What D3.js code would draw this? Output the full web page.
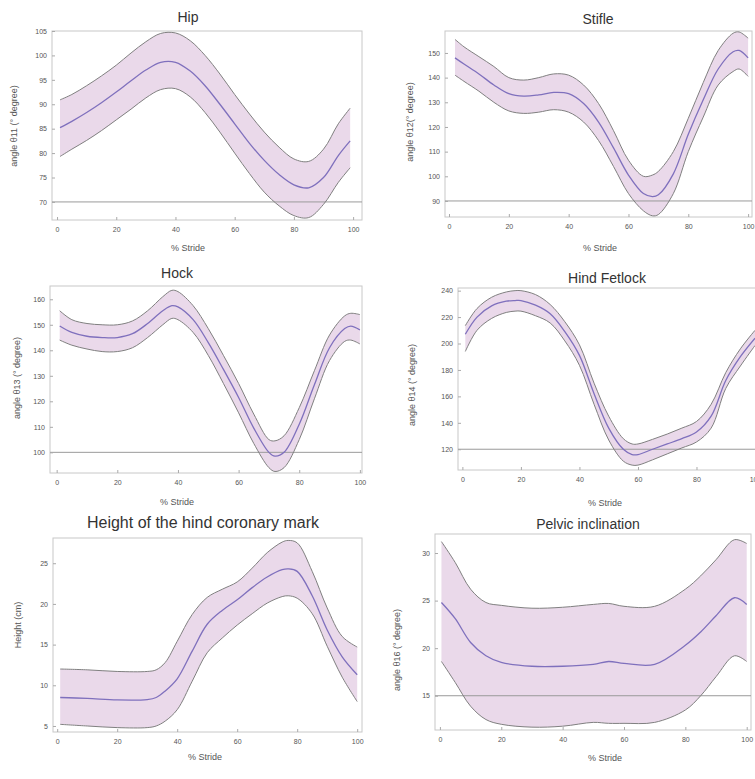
<!DOCTYPE html>
<html>
<head>
<meta charset="utf-8">
<script src="https://cdn.jsdelivr.net/npm/d3@7"></script>
<style>
  body { margin: 0; background: #fff; }
  svg { display: block; font-family: "Liberation Sans", Arial, sans-serif; }
</style>
</head>
<body>
<div id="chart"></div>
<script>
// ---- data ----
const hipX = [1, 5, 10, 15, 20, 25, 30, 35, 40, 45, 50, 55, 60, 65, 70, 75, 80, 85, 90, 95, 99];
const hipMean = [85.2, 86.5, 88.3, 90.3, 92.5, 94.8, 97.0, 98.6, 98.6, 96.8, 93.8, 90.0, 86.0, 82.0, 78.5, 75.6, 73.5, 72.9, 75.0, 79.5, 82.5];
const hipUpper = [90.9, 92.0, 93.8, 95.8, 98.0, 100.5, 102.8, 104.5, 104.6, 103.0, 100.0, 96.2, 92.0, 88.0, 84.3, 81.2, 78.8, 78.3, 80.8, 86.0, 89.2];
const hipLower = [79.3, 80.8, 82.6, 84.6, 86.8, 89.0, 91.3, 93.0, 93.2, 91.5, 88.3, 84.3, 80.0, 75.8, 72.0, 69.2, 67.2, 66.8, 69.5, 74.0, 77.0];

const stifleX = [2, 5, 10, 15, 20, 25, 30, 35, 40, 45, 50, 55, 60, 65, 68, 70, 75, 80, 85, 90, 95, 97, 100];
const stifleMean = [148, 145.5, 141.5, 137.0, 133.5, 132.5, 133.0, 134.0, 133.5, 129.5, 122.0, 111.5, 100.5, 93.0, 91.8, 92.5, 101.0, 117.0, 131.0, 143.5, 150.5, 151.0, 148.0];
const stifleUpper = [155.5, 152.5, 148.5, 144.5, 140.0, 139.0, 140.0, 141.5, 141.0, 137.0, 129.5, 118.5, 106.5, 100.0, 100.5, 102.0, 110.0, 123.5, 138.0, 151.0, 158.0, 158.5, 156.0];
const stifleLower = [141.0, 138.5, 134.5, 130.0, 126.5, 125.5, 126.0, 127.0, 126.0, 122.0, 114.5, 104.0, 93.0, 86.0, 84.0, 84.5, 93.0, 110.0, 124.0, 137.0, 142.5, 143.5, 140.5];

const hockX = [1, 5, 10, 15, 20, 25, 30, 35, 38, 40, 45, 50, 55, 60, 65, 70, 72, 75, 80, 85, 90, 95, 97, 100];
const hockMean = [149.5, 147.0, 145.5, 145.0, 145.0, 146.5, 150.5, 155.5, 157.5, 157.0, 152.0, 143.0, 132.5, 121.5, 109.5, 100.0, 98.5, 100.0, 111.0, 126.5, 141.0, 148.5, 149.5, 148.0];
const hockUpper = [155.5, 152.0, 150.5, 150.0, 150.0, 151.5, 155.5, 161.0, 163.5, 163.0, 157.5, 148.5, 138.0, 127.0, 115.0, 105.0, 104.5, 106.5, 117.5, 132.0, 146.0, 153.5, 154.5, 154.0];
const hockLower = [144.0, 142.0, 140.5, 139.5, 139.5, 141.0, 145.0, 150.0, 152.5, 152.0, 147.0, 138.0, 127.0, 115.5, 103.5, 94.0, 92.5, 94.0, 105.0, 121.0, 136.0, 143.5, 144.0, 142.5];

const fetlockX = [1, 5, 10, 15, 18, 20, 25, 30, 35, 40, 45, 50, 55, 58, 60, 65, 70, 75, 80, 85, 90, 95, 100];
const fetlockMean = [207, 220, 228.5, 232, 232.5, 232.5, 229, 222.5, 209, 191, 162, 136, 120, 116, 116, 120, 124, 128, 133, 145, 172, 190, 204];
const fetlockUpper = [213.5, 226.5, 235, 239, 240, 240, 237, 229.5, 216.5, 199, 170, 145, 128, 124, 124, 127.5, 131.5, 136, 141, 154, 178, 196, 210];
const fetlockLower = [194, 210, 219, 223.5, 224.5, 224.5, 221, 215.5, 202, 183.5, 154, 127, 111, 108, 108, 112, 116.5, 121, 125.5, 136, 166, 183, 198.5];

const heightX = [1, 10, 20, 30, 33, 36, 40, 45, 50, 55, 60, 65, 70, 75, 77, 80, 85, 90, 95, 100];
const heightMean = [8.5, 8.4, 8.2, 8.25, 8.5, 9.3, 10.8, 14.2, 17.5, 19.2, 20.5, 22.0, 23.3, 24.2, 24.3, 24.0, 21.0, 16.8, 13.5, 11.3];
const heightUpper = [12.0, 11.9, 11.7, 11.7, 11.9, 12.8, 15.4, 18.7, 20.8, 21.8, 22.7, 24.4, 26.3, 27.6, 27.8, 27.5, 24.0, 19.5, 16.0, 14.7];
const heightLower = [5.2, 5.0, 4.8, 4.8, 5.0, 5.6, 7.0, 10.5, 14.0, 15.8, 17.4, 18.8, 20.1, 20.9, 21.0, 20.7, 18.8, 14.8, 11.0, 8.0];

const pelvicX = [0.5, 5, 10, 15, 20, 30, 40, 50, 55, 60, 70, 80, 85, 90, 96, 100];
const pelvicMean = [24.8, 23.1, 20.6, 19.2, 18.5, 18.1, 18.1, 18.3, 18.6, 18.4, 18.3, 20.3, 21.7, 23.4, 25.3, 24.6];
const pelvicUpper = [31.2, 29.0, 26.2, 24.8, 24.5, 24.2, 24.3, 24.6, 24.7, 24.4, 24.4, 26.2, 27.6, 29.3, 31.4, 31.0];
const pelvicLower = [18.6, 16.4, 13.9, 12.5, 12.0, 11.7, 11.8, 12.2, 12.1, 12.1, 12.2, 13.5, 15.0, 17.0, 19.2, 18.6];

const xTicks = [0, 20, 40, 60, 80, 100];

// ---- panels ----
const panels = [
  { title: "Hip", ylabel: "angle \u03b811 (\u00b0 degree)", x: hipX, mean: hipMean, upper: hipUpper, lower: hipLower,
    box: [52, 362, 31, 220], xd: [-1.7, 103], yd: [66.3, 105], yt: [70, 75, 80, 85, 90, 95, 100, 105], ref: 70,
    tpos: [188, 22, 14], xl: [188, 251], yl: [14, 126] },
  { title: "Stifle", ylabel: "angle \u03b812(\u00b0 degree)", x: stifleX, mean: stifleMean, upper: stifleUpper, lower: stifleLower,
    box: [445, 752, 31, 217], xd: [-1.34, 101.3], yd: [83.5, 158.9], yt: [90, 100, 110, 120, 130, 140, 150], ref: 90,
    tpos: [598, 24, 14], xl: [600, 251], yl: [410, 122] },
  { title: "Hock", ylabel: "angle \u03b813 (\u00b0 degree)", x: hockX, mean: hockMean, upper: hockUpper, lower: hockLower,
    box: [50, 362, 286, 473], xd: [-2.2, 100.7], yd: [91.9, 165.2], yt: [100, 110, 120, 130, 140, 150, 160], ref: 100,
    tpos: [177, 278, 14], xl: [177, 505], yl: [17, 378] },
  { title: "Hind Fetlock", ylabel: "angle \u03b814 (\u00b0 degree)", x: fetlockX, mean: fetlockMean, upper: fetlockUpper, lower: fetlockLower,
    box: [458, 760, 288, 470], xd: [-1.5, 101.7], yd: [104.3, 242], yt: [120, 140, 160, 180, 200, 220, 240], ref: 120,
    tpos: [607, 283, 14], xl: [605, 506], yl: [412, 385] },
  { title: "Height of the hind coronary mark", ylabel: "Height (cm)", x: heightX, mean: heightMean, upper: heightUpper, lower: heightLower,
    box: [53, 362, 538, 732], xd: [-1.4, 101.6], yd: [4.26, 28.1], yt: [5, 10, 15, 20, 25], ref: null,
    tpos: [203, 528, 16], xl: [205, 760], yl: [18, 625] },
  { title: "Pelvic inclination", ylabel: "angle \u03b816 (\u00b0 degree)", x: pelvicX, mean: pelvicMean, upper: pelvicUpper, lower: pelvicLower,
    box: [435, 751, 534, 730], xd: [-1.6, 101.4], yd: [11.4, 32.0], yt: [15, 20, 25, 30], ref: 15,
    tpos: [588, 529, 14], xl: [605, 761], yl: [397, 650] }
];

const svg = d3.select("#chart").append("svg")
  .attr("width", 755).attr("height", 779);

panels.forEach((p) => {
  const [l, r, t, b] = p.box;
  const x = d3.scaleLinear().domain(p.xd).range([l, r]);
  const y = d3.scaleLinear().domain(p.yd).range([b, t]);
  const g = svg.append("g");
  const pts = p.x.map((v, i) => ({ x: v, m: p.mean[i], u: p.upper[i], lo: p.lower[i] }));
  const curve = d3.curveCatmullRom.alpha(0.5);

  // frame
  g.append("rect")
    .attr("x", l).attr("y", t).attr("width", r - l).attr("height", b - t)
    .attr("fill", "none").attr("stroke", "#c8c8c8").attr("stroke-width", 1);

  // band
  g.append("path")
    .datum(pts)
    .attr("d", d3.area().curve(curve).x((d) => x(d.x)).y0((d) => y(d.lo)).y1((d) => y(d.u)))
    .attr("fill", "#ead9ea");

  // reference line
  if (p.ref !== null) {
    g.append("line")
      .attr("x1", l).attr("x2", r)
      .attr("y1", y(p.ref)).attr("y2", y(p.ref))
      .attr("stroke", "#9a9a9a").attr("stroke-width", 1);
  }

  // band edges
  ["u", "lo"].forEach((k) => {
    g.append("path")
      .datum(pts)
      .attr("d", d3.line().curve(curve).x((d) => x(d.x)).y((d) => y(d[k])))
      .attr("fill", "none").attr("stroke", "#808080").attr("stroke-width", 1);
  });

  // mean
  g.append("path")
    .datum(pts)
    .attr("d", d3.line().curve(curve).x((d) => x(d.x)).y((d) => y(d.m)))
    .attr("fill", "none").attr("stroke", "#7f70bd").attr("stroke-width", 1.3);

  // axes
  g.append("g")
    .attr("transform", `translate(0,${b})`)
    .call(d3.axisBottom(x).tickValues(xTicks).tickSize(-3).tickPadding(7))
    .call((a) => a.select(".domain").remove())
    .call((a) => a.selectAll("line").attr("stroke", "#aaa"))
    .selectAll("text")
    .attr("fill", "#555").attr("font-size", "7px");

  g.append("g")
    .attr("transform", `translate(${l},0)`)
    .call(d3.axisLeft(y).tickValues(p.yt).tickSize(-3).tickPadding(5))
    .call((a) => a.select(".domain").remove())
    .call((a) => a.selectAll("line").attr("stroke", "#aaa"))
    .selectAll("text")
    .attr("fill", "#555").attr("font-size", "7px");

  // title
  g.append("text")
    .attr("x", p.tpos[0]).attr("y", p.tpos[1])
    .attr("text-anchor", "middle")
    .attr("font-size", p.tpos[2] + "px")
    .attr("fill", "#333")
    .text(p.title);

  // x label
  g.append("text")
    .attr("x", p.xl[0]).attr("y", p.xl[1])
    .attr("text-anchor", "middle")
    .attr("font-size", "9px")
    .attr("fill", "#555")
    .text("% Stride");

  // y label
  g.append("text")
    .attr("transform", `translate(${p.yl[0]},${p.yl[1]}) rotate(-90)`)
    .attr("text-anchor", "middle")
    .attr("dy", "0.35em")
    .attr("font-size", "9px")
    .attr("fill", "#555")
    .text(p.ylabel);
});
</script>
</body>
</html>
